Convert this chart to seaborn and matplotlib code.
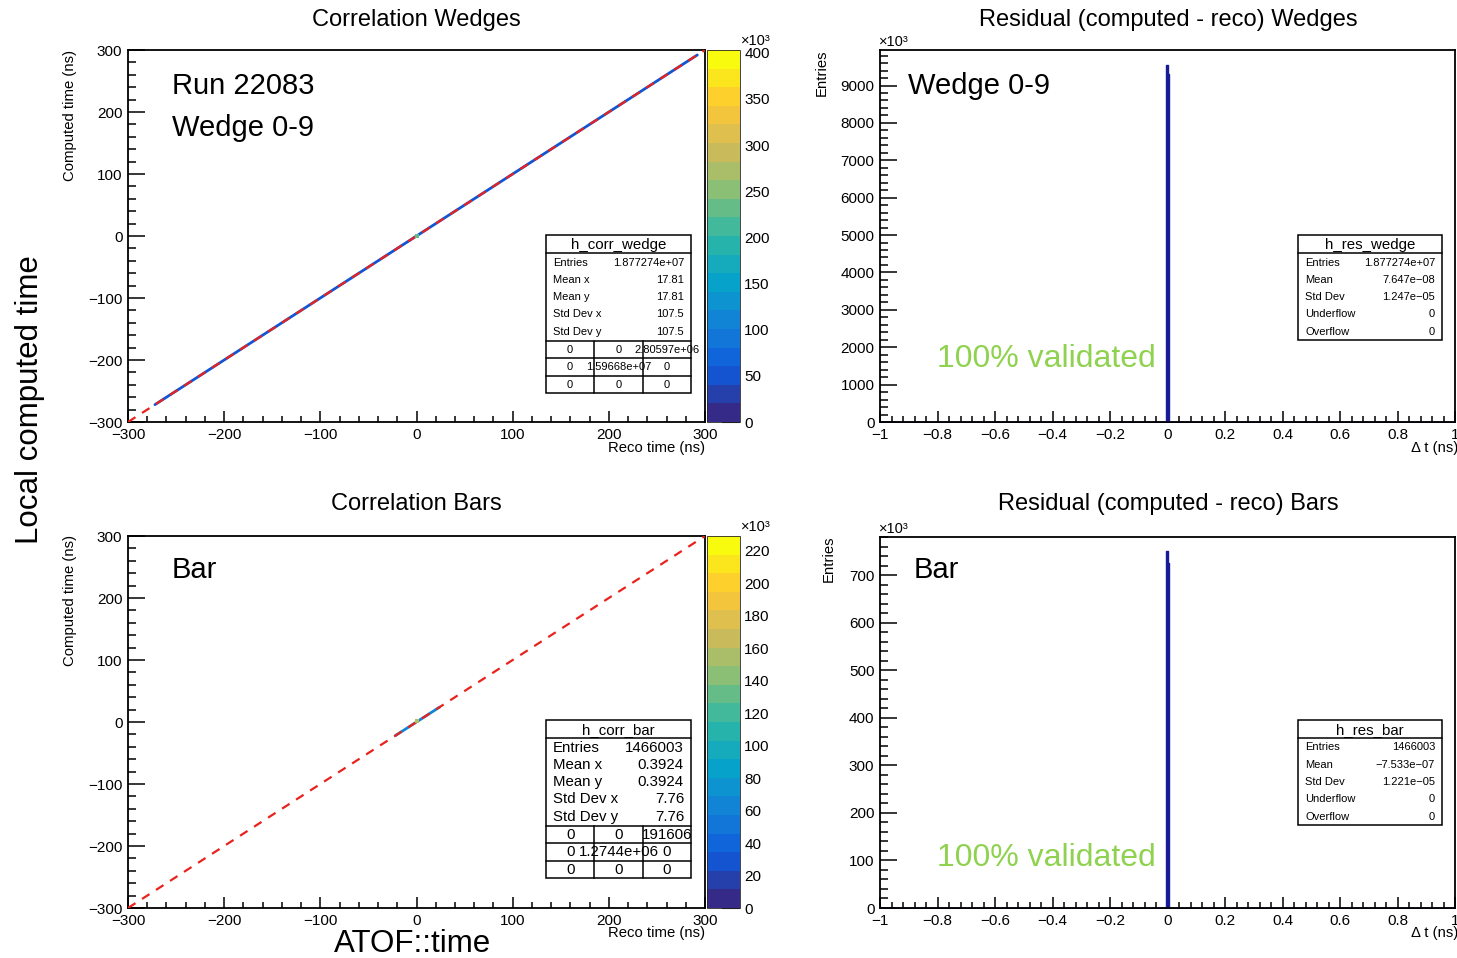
import matplotlib
matplotlib.use("Agg")
import matplotlib.pyplot as plt
import seaborn as sns
from matplotlib.colors import LinearSegmentedColormap, Normalize
from matplotlib.cm import ScalarMappable
from matplotlib.patches import Rectangle
from matplotlib.lines import Line2D
from matplotlib.ticker import MultipleLocator, FuncFormatter

# ---- values ----
# correlation plots: diagonal band end points (ns) and bin content (x10^3)
wedge_diag_t = [-272, 292]
wedge_diag_level = 60
wedge_hot_t = [0]
wedge_hot_level = 230
bar_diag_t = [-22, 24]
bar_diag_level = 60
bar_hot_t = [1]
bar_hot_level = 160
wedge_zmax = 403
bar_zmax = 229
wedge_cbar_ticks = [0, 50, 100, 150, 200, 250, 300, 350, 400]
bar_cbar_ticks = [0, 20, 40, 60, 80, 100, 120, 140, 160, 180, 200, 220]

# residual histograms: bin edges (ns), bin centres and contents (x10^3)
res_edges = [-1, -0.005, 0, 0.005, 1]
res_centers = [-0.5, -0.0025, 0.0025, 0.5]
res_wedge_counts = [0, 9540, 9300, 0]
res_bar_counts = [0, 750, 726, 0]

# stat boxes
corr_wedge_stats = [("Entries", "1.877274e+07"), ("Mean x", "17.81"), ("Mean y", "17.81"),
                    ("Std Dev x", "107.5"), ("Std Dev y", "107.5")]
corr_wedge_grid = [["0", "0", "2.80597e+06"], ["0", "1.59668e+07", "0"], ["0", "0", "0"]]
corr_bar_stats = [("Entries", "1466003"), ("Mean x", "0.3924"), ("Mean y", "0.3924"),
                  ("Std Dev x", "7.76"), ("Std Dev y", "7.76")]
corr_bar_grid = [["0", "0", "191606"], ["0", "1.2744e+06", "0"], ["0", "0", "0"]]
res_wedge_stats = [("Entries", "1.877274e+07"), ("Mean", "7.647e\u221208"), ("Std Dev", "1.247e\u221205"),
                   ("Underflow", "0"), ("Overflow", "0")]
res_bar_stats = [("Entries", "1466003"), ("Mean", "\u22127.533e\u221207"), ("Std Dev", "1.221e\u221205"),
                 ("Underflow", "0"), ("Overflow", "0")]

# ---- style ----
sns.set_style("white")
plt.rcParams['font.family'] = ['Liberation Sans', 'DejaVu Sans']
plt.rcParams['text.color'] = 'black'
plt.rcParams['xtick.color'] = 'black'
plt.rcParams['ytick.color'] = 'black'

# ROOT kBird palette, 20 contour levels
stops = [0.0, 0.125, 0.25, 0.375, 0.5, 0.625, 0.75, 0.875, 1.0]
red = [0.2082, 0.0592, 0.0780, 0.0232, 0.1802, 0.5301, 0.8186, 0.9956, 0.9764]
green = [0.1664, 0.3599, 0.5041, 0.6419, 0.7178, 0.7492, 0.7328, 0.7862, 0.9832]
blue = [0.5293, 0.8684, 0.8385, 0.7914, 0.6425, 0.4662, 0.3499, 0.1968, 0.0539]
bird = LinearSegmentedColormap.from_list("bird", list(zip(stops, zip(red, green, blue))), N=20)
bird_fine = LinearSegmentedColormap.from_list("bird_f", list(zip(stops, zip(red, green, blue))))

W, H = 1457, 958
fig = plt.figure(figsize=(W / 100, H / 100), dpi=100)


def fx(x):
    return x / W


def fy(y):
    return 1 - y / H


def box(l, t, r, b):
    return [fx(l), fy(b), (r - l) / W, (b - t) / H]


def ftext(x, y, s, **kw):
    fig.text(fx(x), fy(y), s, **kw)


def fline(xs, ys, lw=1.1):
    fig.add_artist(Line2D([fx(v) for v in xs], [fy(v) for v in ys], color="black", lw=lw,
                          transform=fig.transFigure, zorder=5))


def style_axes(ax, ymajor, yminor, xmajor, xminor):
    ax.xaxis.set_major_locator(MultipleLocator(xmajor))
    ax.xaxis.set_minor_locator(MultipleLocator(xminor))
    ax.yaxis.set_major_locator(MultipleLocator(ymajor))
    ax.yaxis.set_minor_locator(MultipleLocator(yminor))
    ax.tick_params(which="both", direction="in", bottom=True, left=True, top=False, right=False,
                   width=1.1, labelsize=11, color="black", labelcolor="black")
    ax.tick_params(axis="x", which="major", length=8, pad=4)
    ax.tick_params(axis="x", which="minor", length=4)
    ax.tick_params(axis="y", which="major", length=12, pad=4)
    ax.tick_params(axis="y", which="minor", length=6)
    for sp in ax.spines.values():
        sp.set_linewidth(1.3)
        sp.set_color("black")
    ax.set_xlabel("")
    ax.set_ylabel("")


def stats_box(l, t, r, b, head_y, title, rows, fs, grid=None, grid_lines=None):
    fig.add_artist(Rectangle((fx(l), fy(b)), (r - l) / W, (b - t) / H, transform=fig.transFigure,
                             facecolor="white", edgecolor="black", lw=1.1, zorder=4))
    fline([l, r], [head_y, head_y])
    ftext((l + r) / 2, (t + head_y) / 2 + 1, title, ha="center", va="center", fontsize=10.8, zorder=6)
    y0 = head_y + 9.5
    for i, (lab, val) in enumerate(rows):
        yy = y0 + i * 17.3
        ftext(l + 7, yy, lab, ha="left", va="center", fontsize=fs, zorder=6)
        ftext(r - 7, yy, val, ha="right", va="center", fontsize=fs, zorder=6)
    if grid is not None:
        cw = (r - l) / 3
        for gl in grid_lines:
            fline([l, r], [gl, gl])
        fline([l + cw, l + cw], [grid_lines[0], b])
        fline([l + 2 * cw, l + 2 * cw], [grid_lines[0], b])
        cuts = grid_lines + [b]
        for i, row in enumerate(grid):
            yy = (cuts[i] + cuts[i + 1]) / 2 + 0.5
            for j, val in enumerate(row):
                ftext(l + cw * (j + 0.5), yy, val, ha="center", va="center", fontsize=fs, zorder=6)


def corr_panel(top, diag_t, diag_level, hot_t, hot_level, zmax, cticks):
    ax = fig.add_axes(box(128, top, 705, top + 372))
    norm = Normalize(0, zmax)
    sns.lineplot(x=diag_t, y=diag_t, color=bird(norm(diag_level)), lw=2.0, ax=ax, legend=False)
    sns.scatterplot(x=hot_t, y=hot_t, color=bird_fine(norm(hot_level)), marker="s", s=12,
                    linewidth=0, ax=ax, zorder=5)
    ax.plot([-300, 300], [-300, 300], color="#e8231e", lw=1.6, dashes=(4, 3.5), zorder=4)
    ax.set_xlim(-300, 300)
    ax.set_ylim(-300, 300)
    style_axes(ax, 100, 20, 100, 20)
    cax = fig.add_axes(box(707, top, 740, top + 372))
    cb = fig.colorbar(ScalarMappable(norm=norm, cmap=bird), cax=cax)
    cb.set_ticks(cticks)
    cb.outline.set_linewidth(0.6)
    cax.minorticks_off()
    cax.tick_params(direction="in", right=True, left=False, length=13, width=1.5, labelsize=11,
                    pad=3, color="black", labelcolor="black")
    ftext(741, top - 9, "\u00d710\u00b3", ha="left", va="center", fontsize=10.5)
    return ax


def fmt_res(v, pos):
    v = round(v, 6)
    s = f"{v:g}"
    if s == "-0":
        s = "0"
    return s.replace("-", "\u2212")


def res_panel(top, counts, ymax, ymajor, yminor):
    ax = fig.add_axes(box(880, top, 1455, top + 372 - (1 if top > 400 else 0)))
    sns.histplot(x=res_centers, weights=counts, bins=res_edges, element="step", fill=True,
                 color="#1a1a96", alpha=1, linewidth=1.0, ax=ax)
    ax.set_xlim(-1, 1)
    ax.set_ylim(0, ymax)
    style_axes(ax, ymajor, yminor, 0.2, 0.04)
    ax.xaxis.set_major_formatter(FuncFormatter(fmt_res))
    ax.yaxis.set_major_formatter(FuncFormatter(lambda v, p: f"{v:.0f}"))
    ftext(879, top - 8, "\u00d710\u00b3", ha="left", va="center", fontsize=10.5)
    return ax


validated_green = "#8fd24f"

# ---- top row: wedges ----
corr_panel(50, wedge_diag_t, wedge_diag_level, wedge_hot_t, wedge_hot_level, wedge_zmax, wedge_cbar_ticks)
res_panel(50, res_wedge_counts, 9950, 1000, 200)

ftext(416, 20, "Correlation Wedges", ha="center", va="center", fontsize=17)
ftext(1168, 20, "Residual (computed - reco) Wedges", ha="center", va="center", fontsize=17)
ftext(70, 50, "Computed time (ns)", rotation=90, ha="center", va="top", fontsize=10.7)
ftext(705, 448, "Reco time (ns)", ha="right", va="center", fontsize=10.7)
ftext(822, 50, "Entries", rotation=90, ha="center", va="top", fontsize=10.7)
ftext(1458, 448, "\u0394 t (ns)", ha="right", va="center", fontsize=10.7)
ftext(172, 86, "Run 22083", ha="left", va="center", fontsize=21)
ftext(172, 128, "Wedge 0-9", ha="left", va="center", fontsize=21)
ftext(908, 86, "Wedge 0-9", ha="left", va="center", fontsize=21)
ftext(937, 359, "100% validated", ha="left", va="center", fontsize=23, color=validated_green)

stats_box(546, 235, 691, 393, 253, "h_corr_wedge", corr_wedge_stats, 8.0,
          grid=corr_wedge_grid, grid_lines=[341, 358, 376])
stats_box(1298, 235, 1442, 340, 253, "h_res_wedge", res_wedge_stats, 8.0)

# ---- bottom row: bars ----
corr_panel(536, bar_diag_t, bar_diag_level, bar_hot_t, bar_hot_level, bar_zmax, bar_cbar_ticks)
res_panel(537, res_bar_counts, 780, 100, 20)

ftext(416, 504, "Correlation Bars", ha="center", va="center", fontsize=17)
ftext(1168, 504, "Residual (computed - reco) Bars", ha="center", va="center", fontsize=17)
ftext(70, 535, "Computed time (ns)", rotation=90, ha="center", va="top", fontsize=10.7)
ftext(705, 933, "Reco time (ns)", ha="right", va="center", fontsize=10.7)
ftext(829, 535, "Entries", rotation=90, ha="center", va="top", fontsize=10.7)
ftext(1458, 933, "\u0394 t (ns)", ha="right", va="center", fontsize=10.7)
ftext(172, 570, "Bar", ha="left", va="center", fontsize=21)
ftext(914, 570, "Bar", ha="left", va="center", fontsize=21)
ftext(937, 858, "100% validated", ha="left", va="center", fontsize=23, color=validated_green)

stats_box(546, 720, 691, 878, 738, "h_corr_bar", corr_bar_stats, 10.8,
          grid=corr_bar_grid, grid_lines=[826, 843, 861])
stats_box(1298, 720, 1442, 825, 738, "h_res_bar", res_bar_stats, 8.0)

# ---- overall labels ----
ftext(30, 400, "Local computed time", rotation=90, ha="center", va="center", fontsize=22.5)
ftext(413, 944, "ATOF::time", ha="center", va="center", fontsize=22.5)

fig.savefig("out.png", dpi=100)
